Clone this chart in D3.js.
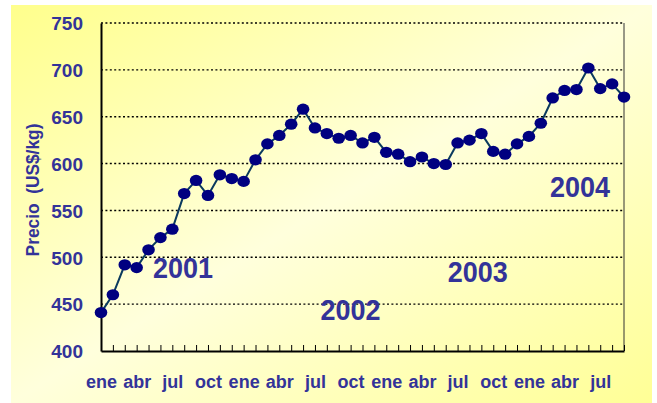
<!DOCTYPE html>
<html>
<head>
<meta charset="utf-8">
<script src="https://cdn.jsdelivr.net/npm/d3@7"></script>
<style>
    body { margin: 0; background: #fff; }
    svg { display: block; }
    text { font-family: "Liberation Sans", Arial, sans-serif; font-weight: bold; fill: #333399; }
</style>
</head>
<body>
<svg class="main"></svg>
<script>
// monthly price, ene 2001 - sep 2004
var monthNames = ["ene", "feb", "mar", "abr", "may", "jun", "jul", "ago", "sep", "oct", "nov", "dic"],
    prices = [
        441, 460, 492, 489, 508, 521, 530, 568, 582, 566, 588, 584,
        581, 604, 621, 630, 642, 658, 638, 632, 627, 630, 622,
        628, 612, 610, 602, 607, 600, 599, 622, 625, 632, 613,
        610, 621, 629, 643, 670, 678, 679, 702, 680, 685, 671
    ],
    yTicks = [400, 450, 500, 550, 600, 650, 700, 750],
    years = ["2001", "2002", "2003", "2004"],
    yearMonths = [6.9, 21.0, 31.7, 40.3],
    yearValues = [478, 433, 474, 564];

var canvas = {
        width: 657,
        height: 403,
        left: 101,
        right: 624,
        top: 23,
        bottom: 351
    },
    colors = {
        text: "#333399",
        marker: "#000080",
        line: "#0b3a5e"
    };

var months = prices.map(function(d, i) {
    return monthNames[i % 12];
});

var main = d3.select(".main")
    .attr("width", canvas.width)
    .attr("height", canvas.height);

// background
var defs = main.append("defs");
var grad = defs.append("linearGradient")
    .attr("id", "bg")
    .attr("x1", "0").attr("y1", "0")
    .attr("x2", "1").attr("y2", "1");
grad.append("stop").attr("offset", "0").attr("stop-color", "#ffff8c");
grad.append("stop").attr("offset", "0.5").attr("stop-color", "#ffffdc");
grad.append("stop").attr("offset", "1").attr("stop-color", "#ffff96");

main.append("rect")
    .attr("x", 11)
    .attr("y", 5)
    .attr("width", 641)
    .attr("height", 398)
    .attr("fill", "url(#bg)");

var x = d3.scaleLinear()
    .domain([0, prices.length - 1])
    .range([canvas.left, canvas.right]);

var y = d3.scaleLinear()
    .domain([400, 750])
    .range([canvas.bottom, canvas.top]);

// gridlines
main.append("g")
    .selectAll("line")
    .data(yTicks.slice(1)).enter()
    .append("line")
    .attr("x1", canvas.left)
    .attr("x2", canvas.right)
    .attr("y1", function(d) { return y(d); })
    .attr("y2", function(d) { return y(d); })
    .attr("stroke", "#000")
    .attr("stroke-width", 1.4)
    .attr("stroke-dasharray", "2,2.4");

// right border
main.append("line")
    .attr("x1", canvas.right).attr("x2", canvas.right)
    .attr("y1", canvas.top).attr("y2", canvas.bottom)
    .attr("stroke", "#333")
    .attr("stroke-width", 1);

// y axis
var yAxis = main.append("g")
    .attr("transform", "translate(" + canvas.left + ",0)")
    .call(d3.axisLeft(y).tickValues(yTicks).tickSize(0).tickPadding(18));
yAxis.select(".domain").attr("stroke", "#000").attr("stroke-width", 2);
yAxis.selectAll("text")
    .attr("fill", colors.text)
    .style("font-size", "19px")
    .attr("dy", "0.36em");

// x axis
var xAxis = main.append("g")
    .attr("transform", "translate(0," + canvas.bottom + ")")
    .call(d3.axisBottom(x)
        .tickValues(d3.range(prices.length))
        .tickSize(-6)
        .tickSizeOuter(0)
        .tickFormat(function(i) { return i % 3 === 0 ? months[i] : ""; }));
xAxis.select(".domain").attr("stroke", "#000").attr("stroke-width", 2);
xAxis.selectAll(".tick line").attr("stroke", "#000").attr("stroke-width", 1);
xAxis.selectAll("text")
    .attr("fill", colors.text)
    .style("font-size", "18px")
    .attr("y", 37)
    .attr("dy", 0);

// y label
main.append("text")
    .attr("transform", "translate(39,190) rotate(-90) scale(1.05,1.1)")
    .attr("text-anchor", "middle")
    .style("font-size", "16.5px")
    .style("white-space", "pre")
    .text("Precio  (US$/kg)");

// series
var line = d3.line()
    .x(function(d, i) { return x(i); })
    .y(function(d) { return y(d); });

main.append("path")
    .datum(prices)
    .attr("d", line)
    .attr("fill", "none")
    .attr("stroke", colors.line)
    .attr("stroke-width", 2);

main.append("g")
    .selectAll("ellipse")
    .data(prices).enter()
    .append("ellipse")
    .attr("cx", function(d, i) { return x(i); })
    .attr("cy", function(d) { return y(d); })
    .attr("rx", 6.3)
    .attr("ry", 5.6)
    .attr("fill", colors.marker);

// year labels
main.append("g")
    .selectAll("text")
    .data(years).enter()
    .append("text")
    .attr("transform", function(d, i) {
        return "translate(" + x(yearMonths[i]) + "," + y(yearValues[i]) + ") scale(1,1.12)";
    })
    .attr("text-anchor", "middle")
    .style("font-size", "27px")
    .text(function(d) { return d; });
</script>
</body>
</html>
